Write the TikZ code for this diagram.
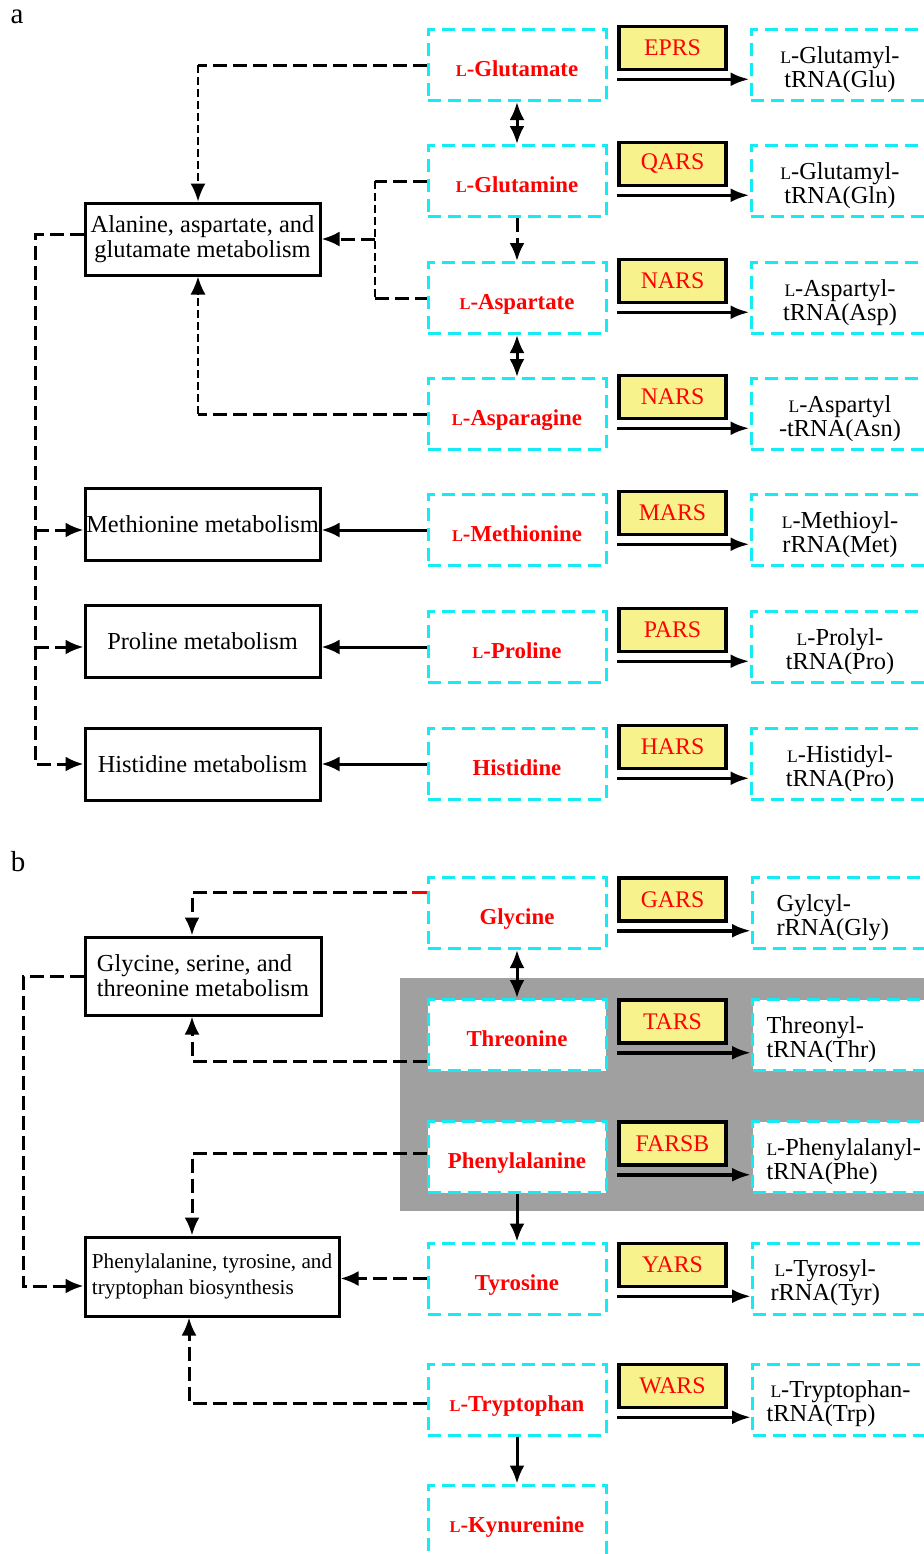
\documentclass[tikz,border=0pt]{standalone}
\usepackage{fontspec}
\setmainfont{Liberation Serif}
\usetikzlibrary{arrows.meta}
\definecolor{aacyan}{RGB}{20,235,245}
\definecolor{enzyellow}{RGB}{248,242,140}
\definecolor{boxgray}{RGB}{160,160,160}
\newcommand{\Lsc}{\scalebox{0.72}{L}}
\tikzstyle{aabox}=[draw=aacyan,dash pattern=on 6.5pt off 3.5pt,line width=1.5pt,fill=white,minimum width=89pt,minimum height=35.5pt,inner sep=0pt]
\tikzstyle{amino}=[aabox,text=red,text height=11.8pt,text depth=0pt,font=\fontsize{11.4}{13}\selectfont\bfseries]
\tikzstyle{product}=[aabox,text=black,align=center,text height=25pt,font=\fontsize{12.2}{12}\selectfont]
\tikzstyle{productl}=[product,anchor=west,align=left,text width=80pt,inner xsep=7pt,text height=13pt]
\tikzstyle{enzyme}=[draw=black,line width=1.75pt,fill=enzyellow,minimum width=53.5pt,minimum height=21.5pt,inner sep=0pt,text=red,font=\fontsize{11.9}{13}\selectfont]
\tikzstyle{pathway}=[draw=black,line width=1.5pt,fill=white,minimum width=117.5pt,minimum height=36pt,inner sep=0pt,align=center,font=\fontsize{12.2}{12.5}\selectfont]
\tikzstyle{link}=[draw,dash pattern=on 7pt off 3pt,line width=1.5pt]
\tikzstyle{thinlink}=[draw,dash pattern=on 4pt off 2pt,line width=1pt]
\tikzstyle{flow}=[draw,line width=1.5pt]
\tikzstyle{rxn}=[draw,line width=1.75pt,-{Latex[length=9.5pt,width=7pt]}]

\begin{document}
\begin{tikzpicture}[x=0.5pt,y=-0.5pt,>={Latex[length=9pt,width=7.5pt]}]
        \useasboundingbox (0,0) rectangle (923,1554);

        % panel a
        \node[font=\fontsize{14.5}{15}\selectfont] (laba) at (17,17) {a};

        \node[amino] (glu) at (517,65) {\Lsc-Glutamate};
        \node[amino] (gln) at (517,181) {\Lsc-Glutamine};
        \node[amino] (asp) at (517,298) {\Lsc-Aspartate};
        \node[amino] (asn) at (517,414) {\Lsc-Asparagine};
        \node[amino] (met) at (517,530) {\Lsc-Methionine};
        \node[amino] (pro) at (517,647) {\Lsc-Proline};
        \node[amino] (his) at (517,764) {Histidine};

        \node[enzyme] (eprs) at (672.5,48) {EPRS};
        \node[enzyme] (qars) at (672.5,164) {QARS};
        \node[enzyme] (nars) at (672.5,281) {NARS};
        \node[enzyme] (narsb) at (672.5,397) {NARS};
        \node[enzyme] (mars) at (672.5,513) {MARS};
        \node[enzyme] (pars) at (672.5,630) {PARS};
        \node[enzyme] (hars) at (672.5,747) {HARS};

        \node[product] (tglu) at (840,65) {\Lsc-Glutamyl-\\tRNA(Glu)};
        \node[product] (tgln) at (840,181) {\Lsc-Glutamyl-\\tRNA(Gln)};
        \node[product] (tasp) at (840,298) {\Lsc-Aspartyl-\\tRNA(Asp)};
        \node[product] (tasn) at (840,414) {\Lsc-Aspartyl\\-tRNA(Asn)};
        \node[product] (tmet) at (840,530) {\Lsc-Methioyl-\\rRNA(Met)};
        \node[product] (tpro) at (840,647) {\Lsc-Prolyl-\\tRNA(Pro)};
        \node[product] (this) at (840,764) {\Lsc-Histidyl-\\tRNA(Pro)};

        \node[pathway] (alamet) at (202.5,239) {Alanine, aspartate, and\\glutamate metabolism};
        \node[pathway] (metmet) at (202.5,524.5) {Methionine metabolism};
        \node[pathway] (promet) at (202.5,641.5) {Proline metabolism};
        \node[pathway] (hismet) at (202.5,764) {Histidine metabolism};

        \coordinate (alatop) at ([xshift=-2.25pt]alamet.north);
        \coordinate (alabot) at ([xshift=-2.25pt]alamet.south);
        \coordinate (brk) at (375,239);
        \coordinate (trunk) at (35,234);

        \path[link] (glu.west) -- (alatop |- glu.west);
        \path[thinlink,->] (alatop |- glu.west) -- (alatop);
        \path[link] (gln.west) -- (brk |- gln.west);
        \path[thinlink] (brk |- gln.west) -- (brk |- asp.west);
        \path[link] (brk |- asp.west) -- (asp.west);
        \path[link,->] (brk) -- (alamet.east);
        \path[link] (asn.west) -- (alabot |- asn.west);
        \path[thinlink,->] (alabot |- asn.west) -- (alabot);

        \path[link,->] ([yshift=2.5pt]alamet.west) -- (trunk) |- (hismet.west);
        \path[link,->] (trunk |- met.west) -- (met.west -| metmet.west);
        \path[link,->] (trunk |- pro.west) -- (pro.west -| promet.west);

        \path[flow,->] (met.west) -- (met.west -| metmet.east);
        \path[flow,->] (pro.west) -- (pro.west -| promet.east);
        \path[flow,->] (his.west) -- (his.west -| hismet.east);

        \path[flow,<->] (glu.south) -- (gln.north);
        \path[link,->] (gln.south) -- (asp.north);
        \path[flow,<->] (asp.south) -- (asn.north);

        \path[rxn] ([yshift=-4pt]eprs.south west) -- ([yshift=-4pt]eprs.south west -| tglu.west);
        \path[rxn] ([yshift=-4pt]qars.south west) -- ([yshift=-4pt]qars.south west -| tgln.west);
        \path[rxn] ([yshift=-4pt]nars.south west) -- ([yshift=-4pt]nars.south west -| tasp.west);
        \path[rxn] ([yshift=-4pt]narsb.south west) -- ([yshift=-4pt]narsb.south west -| tasn.west);
        \path[rxn] ([yshift=-4pt]mars.south west) -- ([yshift=-4pt]mars.south west -| tmet.west);
        \path[rxn] ([yshift=-4pt]pars.south west) -- ([yshift=-4pt]pars.south west -| tpro.west);
        \path[rxn] ([yshift=-4pt]hars.south west) -- ([yshift=-4pt]hars.south west -| this.west);

        % panel b
        \node[font=\fontsize{14.5}{15}\selectfont] (labb) at (18,862) {b};

        \fill[boxgray] (400,978) rectangle (940,1211);

        \node[amino] (gly) at (517,913) {Glycine};
        \node[amino] (thr) at (517,1035) {Threonine};
        \node[amino] (phe) at (517,1157) {Phenylalanine};
        \node[amino] (tyr) at (517,1278.5) {Tyrosine};
        \node[amino] (trp) at (517,1399.5) {\Lsc-Tryptophan};
        \node[amino] (kyn) at (517,1520.5) {\Lsc-Kynurenine};

        \node[enzyme] (gars) at (672.5,899.5) {GARS};
        \node[enzyme] (tars) at (672.5,1021.5) {TARS};
        \node[enzyme] (farsb) at (672.5,1143.5) {FARSB};
        \node[enzyme] (yars) at (672.5,1265) {YARS};
        \node[enzyme] (wars) at (672.5,1386) {WARS};

        \node[productl] (tgly) at (751,913) {\hspace*{5pt}Gylcyl-\\\hspace*{5pt}rRNA(Gly)};
        \node[productl] (tthr) at (751,1035) {Threonyl-\\tRNA(Thr)};
        \node[productl] (tphe) at (751,1157) {\mbox{\Lsc-Phenylalanyl-}\\tRNA(Phe)};
        \node[productl] (ttyr) at (751,1278.5) {\hspace*{4pt}\Lsc-Tyrosyl-\\\hspace*{2pt}rRNA(Tyr)};
        \node[productl] (ttrp) at (751,1399.5) {\hspace*{2pt}\mbox{\Lsc-Tryptophan-}\\tRNA(Trp)};

        \node[pathway,minimum width=118pt,minimum height=39pt,align=left] (glymet) at (203,976) {Glycine, serine, and\\threonine metabolism};
        \node[pathway,minimum width=127pt,minimum height=39.5pt,align=left,font=\fontsize{10.6}{13}\selectfont] (phemet) at (212,1276.5) {Phenylalanine, tyrosine, and\\tryptophan biosynthesis};

        \coordinate (glytop) at ([xshift=-5.5pt]glymet.north);
        \coordinate (glybot) at ([xshift=-5.5pt]glymet.south);
        \coordinate (phetop) at ([xshift=-10pt]phemet.north);
        \coordinate (phebot) at ([xshift=-11.5pt]phemet.south);
        \coordinate (gout) at ([yshift=10.5pt]gly.west);
        \coordinate (trunkb) at (23,976);

        \path[link,->] (gout) -| (glytop);
        \path[draw=red,line width=1.5pt] (gout) -- ++(-15,0);
        \path[link,->] ([yshift=-13pt]thr.west) -| (glybot);
        \path[link,->] (glymet.west) -- (trunkb) |- ([yshift=-4.75pt]phemet.west);
        \path[link,->] ([yshift=2pt]phe.west) -| (phetop);
        \path[link,->] (tyr.west) -- (tyr.west -| phemet.east);
        \path[link,->] ([yshift=-1.75pt]trp.west) -| (phebot);

        \path[flow,<->] (gly.south) -- (thr.north);
        \path[flow,->] (phe.south) -- (tyr.north);
        \path[flow,->] (trp.south) -- (kyn.north);

        \path[rxn] ([yshift=-4pt]gars.south west) -- ([yshift=-4pt]gars.south west -| tgly.west);
        \path[rxn] ([yshift=-4pt]tars.south west) -- ([yshift=-4pt]tars.south west -| tthr.west);
        \path[rxn] ([yshift=-4pt]farsb.south west) -- ([yshift=-4pt]farsb.south west -| tphe.west);
        \path[rxn] ([yshift=-4pt]yars.south west) -- ([yshift=-4pt]yars.south west -| ttyr.west);
        \path[rxn] ([yshift=-4pt]wars.south west) -- ([yshift=-4pt]wars.south west -| ttrp.west);
\end{tikzpicture}
\end{document}
